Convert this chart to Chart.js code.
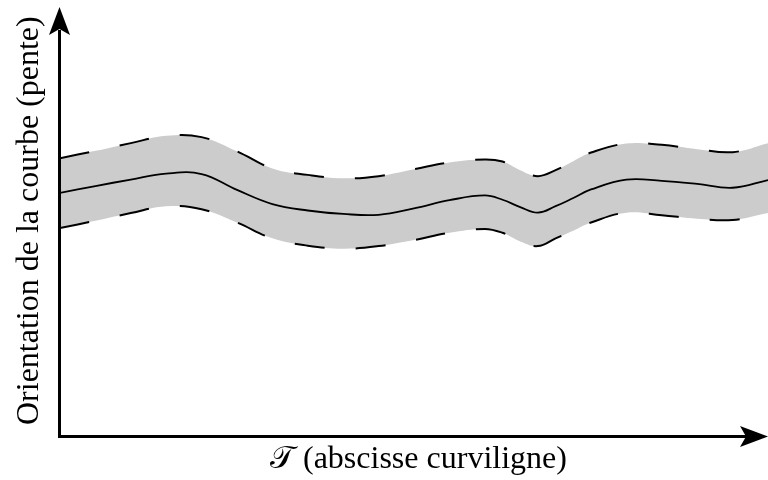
<!DOCTYPE html>
<html>
<head>
<meta charset="utf-8">
<script src="https://cdn.jsdelivr.net/npm/chart.js@4/dist/chart.umd.min.js"></script>
<style>
  body { margin: 0; background: #fff; }
</style>
</head>
<body>
<canvas id="orientationChart" width="768" height="480"></canvas>
<script>
// Orientation along the curve: mean and upper / lower envelope, sampled along T
const abscissa = [0, 5, 10, 15, 20, 25, 30, 35, 40, 45, 50, 55, 60, 62.5, 65, 67.5, 70, 72.5, 75, 80, 85, 90, 95, 100];
const meanSlope = [5.69, 5.85, 6.0, 6.14, 6.13, 5.76, 5.43, 5.28, 5.2, 5.18, 5.33, 5.52, 5.63, 5.53, 5.36, 5.23, 5.38, 5.57, 5.77, 6.0, 5.97, 5.9, 5.81, 5.99];
const upperSlope = [6.5, 6.67, 6.85, 7.02, 6.99, 6.66, 6.26, 6.11, 6.03, 6.08, 6.24, 6.4, 6.47, 6.42, 6.22, 6.08, 6.22, 6.43, 6.63, 6.84, 6.81, 6.71, 6.64, 6.85];
const lowerSlope = [4.87, 5.04, 5.22, 5.38, 5.31, 5.0, 4.63, 4.46, 4.39, 4.45, 4.59, 4.76, 4.85, 4.76, 4.56, 4.45, 4.63, 4.81, 5.0, 5.23, 5.17, 5.09, 5.06, 5.22];

const xLabel = "\u{1D4AF} (abscisse curviligne)";
const yLabel = "Orientation de la courbe (pente)";

function toPoints(ys) {
  return abscissa.map((x, i) => ({ x: x, y: ys[i] }));
}

// arrow head pointing along (dx, dy) with its tip at (x, y)
function arrowHead(ctx, x, y, dx, dy) {
  const len = 28, half = 10.5, notch = 6;
  const px = -dy, py = dx;
  ctx.beginPath();
  ctx.moveTo(x, y);
  ctx.lineTo(x - dx * len + px * half, y - dy * len + py * half);
  ctx.lineTo(x - dx * (len - notch), y - dy * (len - notch));
  ctx.lineTo(x - dx * len - px * half, y - dy * len - py * half);
  ctx.closePath();
  ctx.fill();
}

const axesPlugin = {
  id: "arrowAxes",
  afterDraw(chart) {
    const ctx = chart.ctx;
    const area = chart.chartArea;
    const x0 = area.left - 0.5;
    const y0 = area.bottom - 0.5;
    ctx.save();
    ctx.strokeStyle = "#000";
    ctx.fillStyle = "#000";
    ctx.lineWidth = 3;
    ctx.beginPath();
    ctx.moveTo(x0, y0 + 1.5);
    ctx.lineTo(x0, area.top + 22);
    ctx.moveTo(x0 - 1.5, y0);
    ctx.lineTo(area.right - 22, y0);
    ctx.stroke();
    arrowHead(ctx, x0, area.top - 1, 0, -1);
    arrowHead(ctx, area.right, y0, 1, 0);

    ctx.font = '32px "Liberation Serif", "DejaVu Serif", serif';
    ctx.textBaseline = "alphabetic";
    ctx.textAlign = "left";
    ctx.fillText(xLabel, 270, 468);

    ctx.translate(38, 425);
    ctx.rotate(-Math.PI / 2);
    ctx.fillText(yLabel, 0, 0);
    ctx.restore();
  }
};

const ctx = document.getElementById("orientationChart").getContext("2d");
new Chart(ctx, {
  type: "line",
  data: {
    datasets: [
      {
        label: "moyenne",
        data: toPoints(meanSlope),
        borderColor: "#000",
        borderWidth: 1.8,
        fill: false
      },
      {
        label: "borne haute",
        data: toPoints(upperSlope),
        borderColor: "#000",
        borderWidth: 2,
        borderDash: [30, 31],
        fill: false
      },
      {
        label: "borne basse",
        data: toPoints(lowerSlope),
        borderColor: "#000",
        borderWidth: 2,
        borderDash: [30, 31],
        backgroundColor: "#cccccc",
        fill: "-1"
      }
    ]
  },
  options: {
    responsive: false,
    animation: false,
    layout: { padding: { left: 60, right: 0, top: 8, bottom: 43 } },
    elements: {
      point: { radius: 0 },
      line: { tension: 0.4 }
    },
    scales: {
      x: { type: "linear", min: 0, max: 100, display: false },
      y: { min: 0, max: 10, display: false }
    },
    plugins: {
      legend: { display: false },
      tooltip: { enabled: false }
    }
  },
  plugins: [axesPlugin]
});
</script>
</body>
</html>
